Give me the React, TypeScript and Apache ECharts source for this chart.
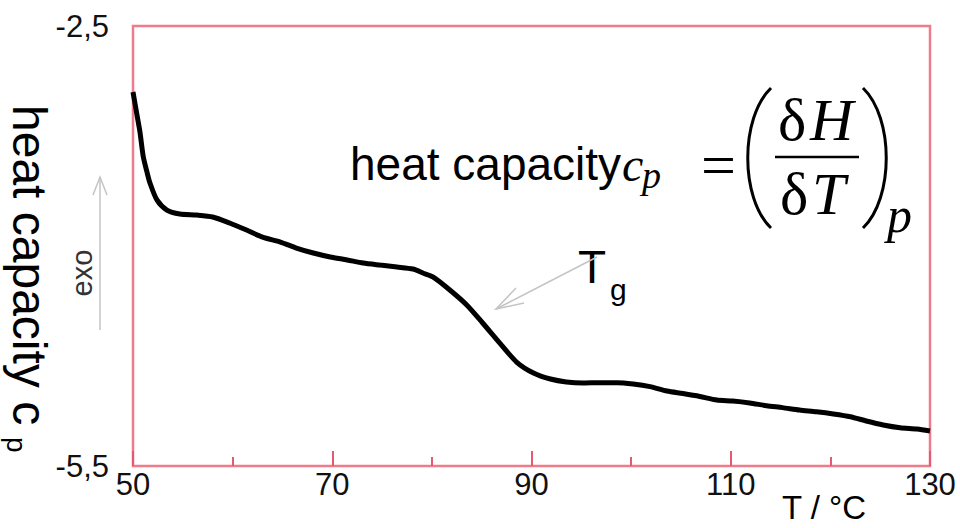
import React, { useEffect, useRef } from "react";
import * as echarts from "echarts";

// Temperature (°C) and DSC signal
const temperature = [
  50.0, 50.4, 50.7, 51.03, 51.4, 51.7, 52.4, 53.4, 54.7, 56.4, 58.0, 59.7, 61.4, 63.0,
  64.8, 66.4, 68.1, 69.8, 71.5, 73.1, 74.8, 76.5, 78.1, 79.1, 80.1, 81.8, 83.5, 85.1,
  86.8, 88.5, 90.2, 91.9, 93.5, 95.2, 96.9, 98.6, 100.2, 101.9, 103.6, 105.2, 106.9,
  108.6, 110.2, 111.9, 113.6, 115.2, 116.9, 118.6, 120.3, 122.0, 123.6, 125.3, 127.0,
  128.7, 130.0,
];
const heatCapacity = [
  -2.95, -3.107, -3.223, -3.391, -3.495, -3.57, -3.686, -3.755, -3.782, -3.789, -3.802,
  -3.843, -3.891, -3.939, -3.973, -4.014, -4.048, -4.075, -4.095, -4.116, -4.13, -4.143,
  -4.157, -4.184, -4.211, -4.3, -4.402, -4.525, -4.661, -4.791, -4.866, -4.907, -4.927,
  -4.934, -4.932, -4.932, -4.941, -4.959, -4.989, -5.006, -5.026, -5.05, -5.057, -5.07,
  -5.089, -5.102, -5.118, -5.13, -5.145, -5.164, -5.193, -5.22, -5.239, -5.248, -5.261,
];
const xMajorTicks = [50, 70, 90, 110, 130];
const xMinorTicks = [60, 80, 100, 120];
const yTickLabels = [-5.5, -2.5];

const PINK = "#ef7b8b";
const TICK = "#e65a70";
const SANS = "Liberation Sans, Arial, sans-serif";
const SERIF = "Liberation Serif, Times New Roman, serif";
const GRAY = "#c4c4c4";

export default function App() {
  const ref = useRef<HTMLDivElement>(null);

  useEffect(() => {
    const chart = echarts.init(ref.current!, null, { renderer: "svg" });
    const txt = (
      text: string,
      x: number,
      y: number,
      fontSize: number,
      extra: any = {},
      style: any = {}
    ) => ({
      type: "text",
      x,
      y,
      z: 10,
      ...extra,
      style: {
        text,
        fontSize,
        fontFamily: SANS,
        fill: "#000",
        align: "left",
        verticalAlign: "middle",
        ...style,
      },
    });

    chart.setOption({
      animation: false,
      backgroundColor: "#fff",
      grid: {
        left: 133,
        right: 30,
        top: 26,
        bottom: 62,
        show: true,
        borderColor: PINK,
        borderWidth: 2.5,
      },
      xAxis: [
        {
          type: "value",
          min: 50,
          max: 130,
          position: "bottom",
          axisLine: { show: false },
          splitLine: { show: false },
          axisTick: {
            show: true,
            inside: true,
            length: 15,
            lineStyle: { color: TICK, width: 2 },
            customValues: xMajorTicks,
          },
          axisLabel: {
            customValues: xMajorTicks,
            fontSize: 31,
            fontFamily: SANS,
            color: "#111",
            margin: 3,
          },
        },
        {
          type: "value",
          min: 50,
          max: 130,
          position: "bottom",
          axisLine: { show: false },
          splitLine: { show: false },
          axisLabel: { show: false },
          axisTick: {
            show: true,
            inside: true,
            length: 9,
            lineStyle: { color: TICK, width: 2 },
            customValues: xMinorTicks,
          },
        },
      ],
      yAxis: {
        type: "value",
        min: -5.5,
        max: -2.5,
        axisLine: { show: false },
        axisTick: { show: false },
        splitLine: { show: false },
        axisLabel: {
          customValues: yTickLabels,
          fontSize: 31,
          fontFamily: SANS,
          color: "#111",
          margin: 24,
          padding: [0, 0, 8, 0],
          formatter: (v: number) => String(v).replace(".", ","),
        },
      },
      series: [
        {
          type: "line",
          xAxisIndex: 0,
          data: temperature.map((t, i) => [t, heatCapacity[i]]),
          showSymbol: false,
          smooth: 0.25,
          lineStyle: { color: "#000", width: 5 },
        },
      ],
      graphic: [
        // y-axis title (rotated clockwise)
        txt("heat capacity c", 29, 105, 48, { rotation: -Math.PI / 2 }),
        txt("p", 16, 437, 28, { rotation: -Math.PI / 2 }),
        // exo arrow
        txt("exo", 82, 273, 29, { rotation: Math.PI / 2 }, { align: "center", fill: "#333" }),
        {
          type: "line",
          z: 10,
          shape: { x1: 100, y1: 330, x2: 100, y2: 177 },
          style: { stroke: GRAY, lineWidth: 1.5 },
        },
        {
          type: "polyline",
          z: 10,
          shape: { points: [[93, 195], [100, 177], [107, 195]] },
          style: { stroke: GRAY, lineWidth: 1.5, fill: null },
        },
        // x-axis title
        txt("T / °C", 782, 507, 33),
        // formula
        txt("heat capacity", 350, 164, 46),
        txt("c", 622, 164, 48, {}, { fontFamily: SERIF, fontStyle: "italic" }),
        txt("p", 642, 175, 38, {}, { fontFamily: SERIF, fontStyle: "italic" }),
        txt("=", 701, 165, 62, {}, { fontFamily: SERIF }),
        {
          type: "bezierCurve",
          z: 10,
          shape: { x1: 771, y1: 88, cpx1: 740, cpy1: 118, cpx2: 740, cpy2: 198, x2: 771, y2: 228 },
          style: { stroke: "#000", lineWidth: 3, fill: null },
        },
        {
          type: "bezierCurve",
          z: 10,
          shape: { x1: 863, y1: 88, cpx1: 894, cpy1: 118, cpx2: 894, cpy2: 198, x2: 863, y2: 228 },
          style: { stroke: "#000", lineWidth: 3, fill: null },
        },
        txt("δ", 778, 120, 60, {}, { fontFamily: SERIF }),
        txt("H", 810, 120, 60, {}, { fontFamily: SERIF, fontStyle: "italic" }),
        {
          type: "line",
          z: 10,
          shape: { x1: 775, y1: 157, x2: 859, y2: 157 },
          style: { stroke: "#000", lineWidth: 2.5 },
        },
        txt("δ", 780, 194, 60, {}, { fontFamily: SERIF }),
        txt("T", 812, 194, 60, {}, { fontFamily: SERIF, fontStyle: "italic" }),
        txt("p", 887, 215, 50, {}, { fontFamily: SERIF, fontStyle: "italic" }),
        // Tg annotation
        txt("T", 578, 267, 46),
        txt("g", 610, 289, 30),
        {
          type: "line",
          z: 10,
          shape: { x1: 597, y1: 257, x2: 496, y2: 309 },
          style: { stroke: GRAY, lineWidth: 1.5 },
        },
        {
          type: "polyline",
          z: 10,
          shape: { points: [[516, 288], [496, 309], [524, 303]] },
          style: { stroke: GRAY, lineWidth: 1.5, fill: null },
        },
      ],
    });
    return () => chart.dispose();
  }, []);

  return (
    <div
      ref={ref}
      style={{ position: "fixed", left: 0, top: 0, width: 960, height: 528 }}
    />
  );
}
